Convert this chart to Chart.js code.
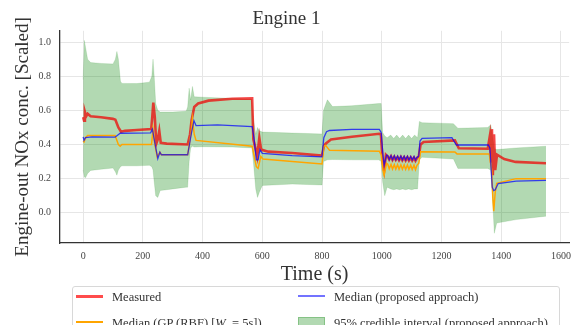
<!DOCTYPE html>
<html>
<head>
<meta charset="utf-8">
<script src="https://cdn.jsdelivr.net/npm/chart.js@4"></script>
<style>
    body { margin: 0; background: #fff; }
    #wrap { position: relative; width: 578px; height: 325px; overflow: hidden; }
    #legend {
        position: absolute; left: 72px; top: 286px; width: 486px; height: 50px;
        border: 1px solid #d8d8d8; border-radius: 3px; background: rgba(255,255,255,0.85);
        font-family: "Liberation Serif", serif; font-size: 12.5px; color: #333;
    }
    .item { position: absolute; white-space: nowrap; line-height: 14px; }
    .item .h { position: absolute; left: 0; top: 5px; width: 27px; height: 3px; }
    .item span.t { position: absolute; left: 36px; top: 0; }
    sub { font-size: 8px; vertical-align: -2px; }
</style>
</head>
<body>
<div id="wrap">
    <canvas id="engineChart" width="578" height="325"></canvas>
    <div id="legend">
        <div class="item" style="left:3px; top:3px;"><div class="h" style="background:rgba(255,0,0,0.7);"></div><span class="t">Measured</span></div>
        <div class="item" style="left:3px; top:29px;"><div class="h" style="background:#ffa500; height:2px;"></div><span class="t">Median (GP (RBF) [<i>W</i><sub>s</sub> = 5s])</span></div>
        <div class="item" style="left:225px; top:3px;"><div class="h" style="background:rgba(0,0,255,0.55); height:2px;"></div><span class="t">Median (proposed approach)</span></div>
        <div class="item" style="left:225px; top:29px;"><div class="h" style="background:rgba(0,128,0,0.3); border:1px solid rgba(0,128,0,0.25); height:9px; top:1px; width:25px;"></div><span class="t">95% credible interval (proposed approach)</span></div>
    </div>
</div>
<script>
// 95% credible band of the proposed approach
const bandTime  = [0, 4, 8, 15, 25, 60, 100, 108, 113, 118, 125, 130, 180, 222, 230, 234, 238, 243, 250, 258,
                   300, 345, 350, 355, 360, 366, 372, 400, 500, 565, 570, 578, 584, 590, 600, 700, 800, 805, 818, 835,
                   900, 990, 998, 1003, 1010, 1018, 1030, 1040, 1050, 1060, 1070, 1080, 1090, 1100, 1110, 1120, 1126, 1135, 1240, 1255,
                   1355, 1365, 1372, 1377, 1385, 1450, 1550];
const bandUpper = [0.78, 1.01, 0.97, 0.90, 0.88, 0.875, 0.872, 0.90, 0.945, 0.90, 0.77, 0.758, 0.757, 0.765, 0.80, 0.90, 0.80, 0.64, 0.60, 0.59,
                   0.59, 0.595, 0.62, 0.73, 0.66, 0.74, 0.68, 0.677, 0.67, 0.665, 0.55, 0.46, 0.50, 0.48, 0.473, 0.467, 0.462, 0.60, 0.662, 0.622,
                   0.627, 0.64, 0.64, 0.47, 0.45, 0.44, 0.455, 0.435, 0.455, 0.435, 0.455, 0.435, 0.455, 0.435, 0.455, 0.44, 0.535, 0.528, 0.522, 0.495,
                   0.50, 0.515, 0.44, 0.375, 0.37, 0.38, 0.39];
const bandLower = [0.25, 0.21, 0.205, 0.23, 0.248, 0.255, 0.262, 0.24, 0.22, 0.25, 0.27, 0.275, 0.275, 0.278, 0.27, 0.25, 0.18, 0.10, 0.09, 0.13,
                   0.14, 0.15, 0.15, 0.30, 0.38, 0.39, 0.385, 0.387, 0.385, 0.38, 0.30, 0.14, 0.09, 0.12, 0.16, 0.168, 0.163, 0.30, 0.31, 0.312,
                   0.31, 0.31, 0.30, 0.18, 0.10, 0.15, 0.14, 0.135, 0.14, 0.135, 0.14, 0.135, 0.14, 0.135, 0.14, 0.14, 0.31, 0.325, 0.315, 0.26,
                   0.26, 0.25, 0.05, -0.12, -0.06, -0.04, -0.02];

// measured engine-out NOx
const measuredTime  = [0, 3, 6, 10, 15, 25, 60, 100, 108, 118, 127, 140, 180, 228, 231, 235, 240, 245, 250, 255,
                       260, 280, 350, 358, 363, 372, 385, 420, 500, 566, 570, 578, 583, 590, 596, 620, 700, 800, 806, 812,
                       830, 900, 992, 997, 1003, 1008, 1014, 1020, 1025, 1031, 1036, 1042, 1047, 1053, 1058, 1064, 1069, 1075, 1080, 1086,
                       1091, 1097, 1102, 1108, 1113, 1118, 1124, 1130, 1140, 1245, 1258, 1355, 1362, 1366, 1369, 1372, 1376, 1380, 1386, 1410,
                       1448, 1550];
const measuredValue = [0.56, 0.54, 0.59, 0.565, 0.58, 0.565, 0.56, 0.55, 0.545, 0.50, 0.475, 0.48, 0.485, 0.49, 0.55, 0.645, 0.56, 0.405, 0.43, 0.48,
                       0.41, 0.405, 0.40, 0.46, 0.54, 0.62, 0.64, 0.657, 0.668, 0.67, 0.43, 0.37, 0.33, 0.44, 0.37, 0.358, 0.35, 0.335, 0.39, 0.405,
                       0.43, 0.445, 0.463, 0.46, 0.30, 0.25, 0.34, 0.33, 0.312, 0.33, 0.31, 0.328, 0.31, 0.326, 0.308, 0.326, 0.308, 0.325, 0.307, 0.325,
                       0.306, 0.324, 0.306, 0.323, 0.305, 0.32, 0.33, 0.40, 0.415, 0.424, 0.378, 0.375, 0.45, 0.30, 0.49, 0.22, 0.46, 0.25, 0.34, 0.315,
                       0.298, 0.29];

// median of the GP (RBF) baseline
const gpTime  = [0, 3, 8, 15, 107, 118, 124, 130, 229, 234, 240, 248, 257, 262, 350, 362, 366, 372, 378, 566,
                 572, 580, 586, 595, 602, 700, 800, 806, 812, 825, 992, 998, 1004, 1008, 1016, 1020, 1025, 1031, 1036, 1042,
                 1047, 1053, 1058, 1064, 1069, 1075, 1080, 1086, 1091, 1097, 1102, 1108, 1113, 1118, 1124, 1130, 1245, 1252, 1360, 1368,
                 1372, 1375, 1380, 1385, 1450, 1550];
const gpValue = [0.42, 0.415, 0.44, 0.453, 0.453, 0.40, 0.39, 0.40, 0.40, 0.49, 0.40, 0.327, 0.355, 0.34, 0.34, 0.47, 0.55, 0.46, 0.424, 0.39,
                 0.34, 0.27, 0.26, 0.33, 0.315, 0.30, 0.286, 0.39, 0.395, 0.366, 0.36, 0.34, 0.25, 0.22, 0.29, 0.285, 0.258, 0.283, 0.256, 0.282,
                 0.256, 0.282, 0.255, 0.281, 0.255, 0.28, 0.254, 0.28, 0.254, 0.279, 0.254, 0.279, 0.253, 0.278, 0.29, 0.358, 0.356, 0.345, 0.345, 0.25,
                 0.09, 0.01, 0.12, 0.173, 0.20, 0.20];

// median of the proposed approach
const proposedTime  = [0, 3, 8, 30, 107, 124, 226, 232, 238, 250, 257, 262, 350, 362, 371, 378, 450, 566, 572, 580,
                       586, 592, 600, 700, 800, 806, 815, 825, 900, 992, 998, 1004, 1008, 1016, 1020, 1025, 1031, 1036, 1042, 1047,
                       1053, 1058, 1064, 1069, 1075, 1080, 1086, 1091, 1097, 1102, 1108, 1113, 1118, 1124, 1128, 1135, 1235, 1250, 1357, 1362,
                       1370, 1375, 1380, 1390, 1450, 1550];
const proposedValue = [0.445, 0.425, 0.44, 0.445, 0.443, 0.466, 0.468, 0.49, 0.43, 0.317, 0.355, 0.34, 0.34, 0.46, 0.54, 0.511, 0.515, 0.505, 0.44, 0.31,
                       0.31, 0.37, 0.348, 0.335, 0.328, 0.44, 0.475, 0.482, 0.488, 0.488, 0.47, 0.34, 0.28, 0.338, 0.335, 0.312, 0.334, 0.311, 0.333, 0.311,
                       0.332, 0.31, 0.332, 0.31, 0.331, 0.31, 0.331, 0.309, 0.33, 0.309, 0.33, 0.309, 0.325, 0.33, 0.42, 0.436, 0.44, 0.397, 0.397, 0.38,
                       0.15, 0.13, 0.135, 0.171, 0.185, 0.19];

const xTicks = [0, 200, 400, 600, 800, 1000, 1200, 1400, 1600];
const yTicks = [0.0, 0.2, 0.4, 0.6, 0.8, 1.0];

function toPoints(xs, ys) {
    return xs.map((x, i) => ({ x: x, y: ys[i] }));
}

const serif = '"Liberation Serif", "DejaVu Serif", serif';
const gridColor = '#e6e6e6';

const ctx = document.getElementById('engineChart').getContext('2d');
new Chart(ctx, {
    type: 'line',
    data: {
        datasets: [
            {
                label: 'upper',
                data: toPoints(bandTime, bandUpper),
                borderColor: 'rgba(0,128,0,0.12)',
                borderWidth: 1,
                backgroundColor: 'rgba(0,128,0,0.3)',
                fill: '+1',
                order: 5
            },
            {
                label: 'lower',
                data: toPoints(bandTime, bandLower),
                borderColor: 'rgba(0,128,0,0.12)',
                borderWidth: 1,
                fill: false,
                order: 5
            },
            {
                label: 'Measured',
                data: toPoints(measuredTime, measuredValue),
                borderColor: 'rgba(240,0,0,0.72)',
                borderWidth: 2.6,
                fill: false,
                order: 3
            },
            {
                label: 'Median (GP (RBF))',
                data: toPoints(gpTime, gpValue),
                borderColor: '#ffa500',
                borderWidth: 1.5,
                fill: false,
                order: 2
            },
            {
                label: 'Median (proposed approach)',
                data: toPoints(proposedTime, proposedValue),
                borderColor: 'rgba(0,0,255,0.72)',
                borderWidth: 1.3,
                fill: false,
                order: 1
            }
        ]
    },
    options: {
        responsive: false,
        animation: false,
        events: [],
        elements: { point: { radius: 0 }, line: { tension: 0 } },
        layout: { padding: { left: 0, right: 5, top: 0, bottom: 37 } },
        plugins: {
            legend: { display: false },
            tooltip: { enabled: false },
            title: {
                display: true,
                text: 'Engine 1',
                color: '#333',
                font: { family: serif, size: 19, weight: 'normal' },
                padding: { top: 8, bottom: 0 }
            }
        },
        scales: {
            x: {
                type: 'linear',
                min: -77.5,
                max: 1627.5,
                afterBuildTicks: scale => { scale.ticks = xTicks.map(v => ({ value: v })); },
                afterFit: scale => { scale.height = 45; },
                ticks: {
                    color: '#444',
                    font: { family: serif, size: 10 },
                    padding: 7,
                    maxRotation: 0,
                    callback: v => String(v)
                },
                grid: { color: gridColor, drawTicks: false },
                border: { color: '#333', width: 1.3 },
                title: {
                    display: true,
                    text: 'Time (s)',
                    color: '#333',
                    font: { family: serif, size: 20 },
                    padding: { top: 0, bottom: 1 }
                }
            },
            y: {
                type: 'linear',
                min: -0.177,
                max: 1.066,
                afterBuildTicks: scale => { scale.ticks = yTicks.map(v => ({ value: v })); },
                afterFit: scale => { scale.width = 60; },
                ticks: {
                    color: '#444',
                    font: { family: serif, size: 10 },
                    padding: 9,
                    callback: v => v.toFixed(1)
                },
                grid: { color: gridColor, drawTicks: false },
                border: { color: '#333', width: 1.3 },
                title: {
                    display: true,
                    text: 'Engine-out NOx conc. [Scaled]',
                    color: '#333',
                    font: { family: serif, size: 19 },
                    padding: { top: 12, bottom: 0 }
                }
            }
        }
    }
});
</script>
</body>
</html>
